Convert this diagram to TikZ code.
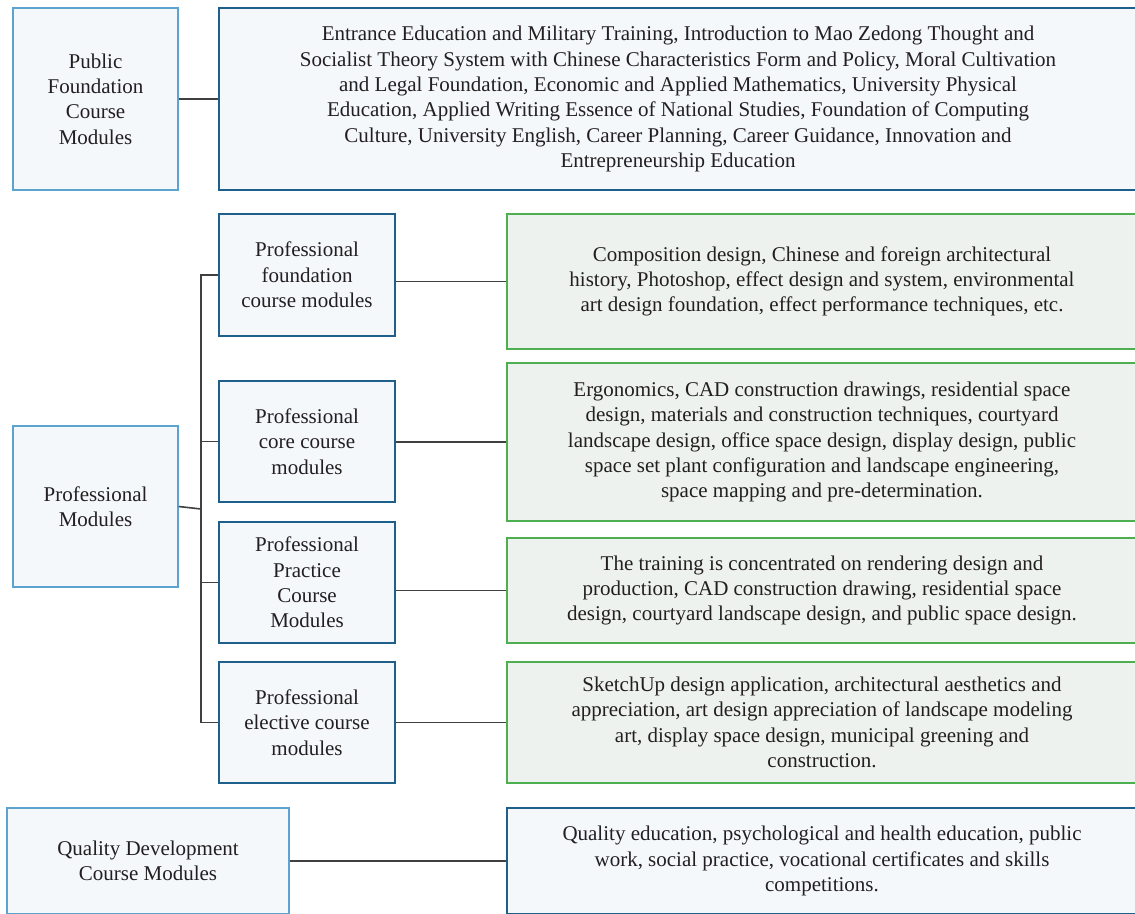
\documentclass[tikz,border=0pt]{standalone}
\usepackage{fontspec}
\setmainfont{Liberation Serif}
\usepackage{tikz}
\definecolor{ModuleTextColor}{RGB}{35,31,32}
\definecolor{ModuleEdgeLight}{RGB}{92,163,207}
\definecolor{ModuleEdgeDark}{RGB}{31,95,139}
\definecolor{ModuleFillColor}{RGB}{245,248,251}
\definecolor{ContentEdgeGreen}{RGB}{77,175,80}
\definecolor{ContentFillGreen}{RGB}{238,242,238}
\definecolor{LinkColor}{RGB}{64,64,64}

\begin{document}
\begin{tikzpicture}[x=1pt,y=-1pt,font=\fontsize{21}{25.3}\selectfont,text=ModuleTextColor,blk/.style n args={4}{draw=#1,fill=#2,line width=1.5pt,minimum width=#3pt,minimum height=#4pt,rectangle,align=center,inner sep=0pt},link/.style={draw=LinkColor,line width=1.6pt}]
\useasboundingbox (0,0) rectangle (1135,913);
\clip (0,0) rectangle (1135,913);
% public foundation
\node[blk={ModuleEdgeLight}{ModuleFillColor}{165}{182}](pubL) at(95.5,99) {Public\\Foundation\\Course\\Modules};
\node[blk={ModuleEdgeDark}{ModuleFillColor}{918}{182}](pubR) at(678,99) {Entrance Education and Military Training, Introduction to Mao Zedong Thought and\\
   Socialist Theory System with Chinese Characteristics Form and Policy, Moral Cultivation\\
   and Legal Foundation, Economic and Applied Mathematics, University Physical\\
   Education, Applied Writing Essence of National Studies, Foundation of Computing\\
   Culture, University English, Career Planning, Career Guidance, Innovation and\\
   Entrepreneurship Education};
% professional modules
\node[blk={ModuleEdgeLight}{ModuleFillColor}{165}{161}](profL) at(95.5,506.5) {Professional\\Modules};
\node[blk={ModuleEdgeDark}{ModuleFillColor}{176}{122}](pf1) at(307,275) {Professional\\foundation\\course modules};
\node[blk={ModuleEdgeDark}{ModuleFillColor}{176}{121}](pf2) at(307,441.5) {Professional\\core course\\modules};
\node[blk={ModuleEdgeDark}{ModuleFillColor}{176}{121}](pf3) at(307,582.5) {Professional\\Practice\\Course\\Modules};
\node[blk={ModuleEdgeDark}{ModuleFillColor}{176}{121}](pf4) at(307,722.5) {Professional\\elective course\\modules};
\node[blk={ContentEdgeGreen}{ContentFillGreen}{630}{135}](g1) at(822,281.5) {Composition design, Chinese and foreign architectural\\
   history, Photoshop, effect design and system, environmental\\
   art design foundation, effect performance techniques, etc.};
\node[blk={ContentEdgeGreen}{ContentFillGreen}{630}{158}](g2) at(822,442) {Ergonomics, CAD construction drawings, residential space\\
   design, materials and construction techniques, courtyard\\
   landscape design, office space design, display design, public\\
   space set plant configuration and landscape engineering,\\
   space mapping and pre-determination.};
\node[blk={ContentEdgeGreen}{ContentFillGreen}{630}{105}](g3) at(822,590.5) {The training is concentrated on rendering design and\\
   production, CAD construction drawing, residential space\\
   design, courtyard landscape design, and public space design.};
\node[blk={ContentEdgeGreen}{ContentFillGreen}{630}{121}](g4) at(822,722.5) {SketchUp design application, architectural aesthetics and\\
   appreciation, art design appreciation of landscape modeling\\
   art, display space design, municipal greening and\\
   construction.};
% quality development
\node[blk={ModuleEdgeLight}{ModuleFillColor}{282}{106}](qL) at(148,861) {Quality Development\\Course Modules};
\node[blk={ModuleEdgeDark}{ModuleFillColor}{630}{106}](qR) at(822,861) {Quality education, psychological and health education, public\\
   work, social practice, vocational certificates and skills\\
   competitions.};
% links
\coordinate (trunk) at (201,509);
\draw[link] (pubL.east) -- (pubR.west);
\draw[link] (profL.east) -- (trunk);
\draw[link] (pf1.west) -| (trunk) |- (pf4.west);
\draw[link] (trunk |- pf2.west) -- (pf2.west);
\draw[link] (trunk |- pf3.west) -- (pf3.west);
\draw[link] (pf1.east |- g1.west) -- (g1.west);
\draw[link] (pf2.east |- g2.west) -- (g2.west);
\draw[link] (pf3.east |- g3.west) -- (g3.west);
\draw[link] (pf4.east |- g4.west) -- (g4.west);
\draw[link] (qL.east) -- (qR.west);
\end{tikzpicture}
\end{document}
